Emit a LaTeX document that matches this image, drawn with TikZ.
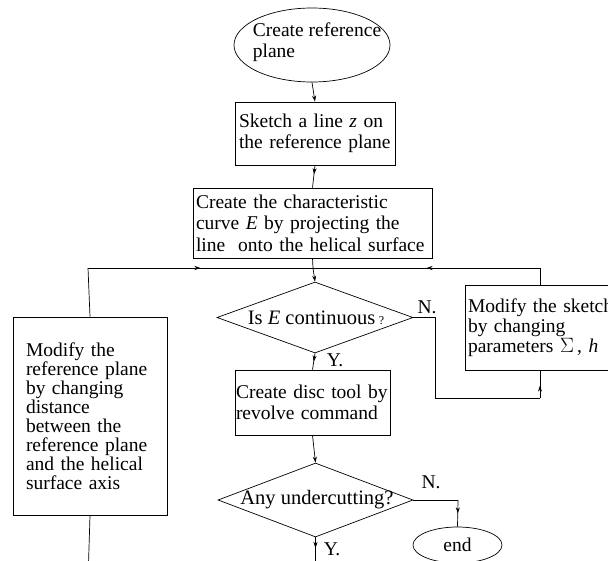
\documentclass[tikz,border=0pt]{standalone}
\usepackage{fontspec}
\setmainfont{Liberation Serif}
\usetikzlibrary{shapes.geometric,arrows.meta,decorations.markings}
\tikzset{
  tip/.tip={Stealth[length=6pt,width=4pt]},
  conn/.style={line width=0.7pt,draw=black},
  midarrow/.style={postaction={decorate},decoration={markings,mark=at position #1 with {\arrow{tip}}}},
  txt/.style={font=\fontsize{19.5}{21.5}\selectfont},
  box/.style={draw,rectangle,line width=0.7pt,inner ysep=0pt,align=left,txt},
  dia/.style={draw,diamond,line width=0.7pt,inner sep=0pt},
  ell/.style={draw,ellipse,line width=0.7pt,inner sep=0pt},
  lab/.style={txt,inner sep=0pt},
  dlab/.style={font=\fontsize{20.5}{22}\selectfont,inner sep=0pt}
}
\begin{document}
\begin{tikzpicture}[x=1pt,y=-1pt]
\useasboundingbox (0,0) rectangle (608,560);
\clip (0,0) rectangle (608,560);
% nodes
\node[ell,minimum width=156pt,minimum height=74pt] (start) at (312,45) {};
\node[txt,align=left,inner sep=0pt] (starttxt) at (317,42) {Create reference\\plane};
\node[box,minimum width=160pt,minimum height=63pt,text width=152pt,inner xsep=4pt] (s2) at (315,133.5) {Sketch a line \textit{z} on\\the reference plane};
\node[box,minimum width=239pt,minimum height=70pt,text width=233pt,inner xsep=3pt] (s3) at (312.5,223) {Create the characteristic\\curve \textit{E} by projecting the\\line \ onto the helical surface};
\node[dia,minimum width=196pt,minimum height=71pt] (d1) at (315,317.5) {};
\node[dlab] (d1txt) at (316,318) {Is \textit{E} continuous\,{\fontsize{12}{12}\selectfont ?}};
\node[box,minimum width=155pt,minimum height=65pt,text width=153pt,inner xsep=1pt] (s6) at (312.5,402.5) {Create disc tool by\\revolve command};
\node[dia,minimum width=195pt,minimum height=74pt] (d2) at (315.5,500) {};
\node[dlab] (d2txt) at (317,500) {Any undercutting?};
\node[ell,minimum width=89pt,minimum height=36pt,txt] (en) at (457.5,545) {end};
\node[box,minimum width=154pt,minimum height=198pt,text width=128pt,inner xsep=13pt,font=\fontsize{19.5}{19}\selectfont] (m4) at (90,416) {Modify the\\reference plane\\by changing\\distance\\between the\\reference plane\\and the helical\\surface axis};
\node[box,minimum width=175pt,minimum height=85pt,text width=169pt,inner xsep=3pt,font=\fontsize{19.5}{20}\selectfont] (m5) at (552.5,327.5) {Modify the sketch\\by changing\\parameters $\Sigma$\,, \textit{h}};
% coordinates
\coordinate (C) at (313,268);
\coordinate (L) at (88,268);
\coordinate (R) at (540,268);
\coordinate (n1a) at (435,317.5);
\coordinate (n1b) at (435,398);
\coordinate (n1c) at (540,398);
\coordinate (n2a) at (458,500);
\coordinate (ybot) at (315.5,580);
\coordinate (lbot) at (88,580);
% connectors
\draw[conn,-{tip}] (start.south) -- (s2.north);
\draw[conn,midarrow=0.4] (s2.south) -- (s3.north);
\draw[conn] (s3.south) -- (C);
\draw[conn,-{tip}] (C) -- (d1.north);
\draw[conn] (m4.north) -- (L);
\draw[conn,midarrow=0.5] (L) -- (C);
\draw[conn] (m5.north -| R) -- (R);
\draw[conn,midarrow=0.5] (R) -- (C);
\draw[conn] (d1.east) -- (n1a) -- (n1b) -- (n1c);
\draw[conn,midarrow=0.45] (n1c) -- (m5.south -| n1c);
\draw[conn,midarrow=0.5] (d1.south) -- (s6.north);
\draw[conn,-{tip}] (s6.south) -- (d2.north);
\draw[conn] (d2.east) -- (n2a);
\draw[conn,midarrow=0.5] (n2a) -- (en.north);
\draw[conn,midarrow=0.25] (d2.south) -- (ybot);
\draw[conn] (m4.south) -- (lbot);
% labels
\node[lab] (ln1) at (427,307) {N.};
\node[lab] (ly1) at (335,360) {Y.};
\node[lab] (ln2) at (431,482) {N.};
\node[lab] (ly2) at (332,549) {Y.};
\end{tikzpicture}
\end{document}
